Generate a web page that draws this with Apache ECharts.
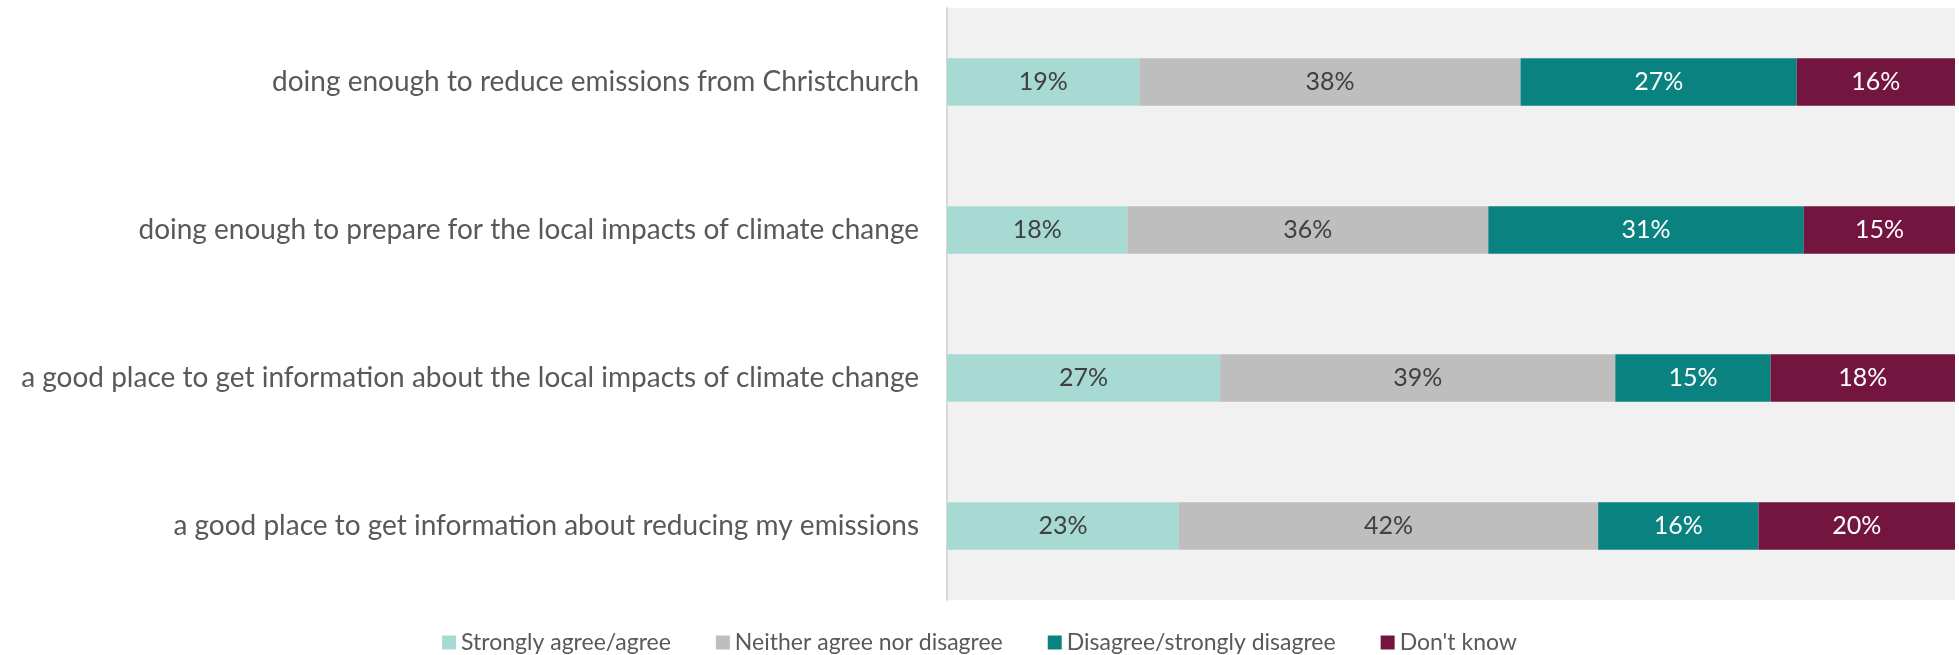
<!DOCTYPE html>
<html><head><meta charset="utf-8">
<script src="https://cdn.jsdelivr.net/npm/echarts@6/dist/echarts.min.js"></script>
<style>html,body{margin:0;padding:0;background:#fff}#c{width:1959px;height:655px}</style>
</head><body><div id="c"></div>
<script>
const categories = [
  'doing enough to reduce emissions from Christchurch',
  'doing enough to prepare for the local impacts of climate change',
  'a good place to get information about the local impacts of climate change',
  'a good place to get information about reducing my emissions'
];
const seriesNames = ['Strongly agree/agree', 'Neither agree nor disagree', 'Disagree/strongly disagree', "Don't know"];
const agree = [19.1, 17.9, 27.1, 23.0];
const neither = [37.8, 35.8, 39.2, 41.6];
const disagree = [27.4, 31.3, 15.4, 15.9];
const dontKnow = [15.7, 15.0, 18.3, 19.5];
const colors = ['#a6dad3', '#bebebe', '#0a8380', '#741540'];
const labelColors = ['#404040', '#404040', '#ffffff', '#ffffff'];
const FONT = "Lato, 'Noto Sans', sans-serif";

const dataSets = [agree, neither, disagree, dontKnow];
const chart = echarts.init(document.getElementById('c'));
chart.setOption({
  animation: false,
  textStyle: { fontFamily: FONT },
  grid: { left: 947, right: 4, top: 8, bottom: 55, show: true, backgroundColor: '#f1f1f1', borderWidth: 0, outerBoundsMode: 'none', containLabel: false },
  xAxis: { type: 'value', min: 0, max: 100, show: false },
  yAxis: {
    type: 'category', data: categories, inverse: true,
    axisLine: { show: true, lineStyle: { color: '#d9d9d9', width: 2 } },
    axisTick: { show: false },
    axisLabel: { fontSize: 28, color: '#595959', margin: 28, fontFamily: FONT }
  },
  legend: {
    top: 626, left: 'center', itemWidth: 14, itemHeight: 14, itemGap: 45,
    icon: 'rect',
    textStyle: { fontSize: 23, color: '#595959', fontFamily: FONT, padding: [0, 0, 0, 0] },
    data: seriesNames
  },
  series: seriesNames.map((n, i) => ({
    name: n, type: 'bar', stack: 'total', barWidth: '32%',
    data: dataSets[i],
    itemStyle: { color: colors[i] },
    label: {
      show: true, position: 'inside', fontSize: 25, color: labelColors[i], fontFamily: FONT,
      formatter: p => Math.round(p.value) + '%'
    }
  }))
});
</script></body></html>
